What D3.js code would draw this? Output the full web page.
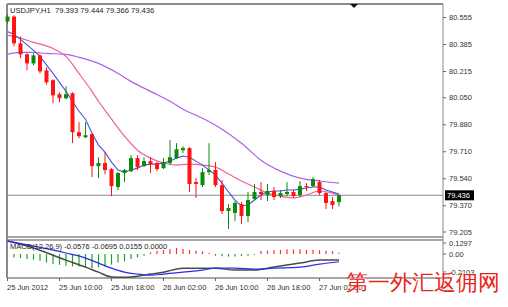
<!DOCTYPE html>
<html>
<head>
<meta charset="utf-8">
<script src="https://cdn.jsdelivr.net/npm/d3@7"></script>
<style>
  body { margin: 0; background: #fff; }
  svg { display: block; }
  text { font-family: "Liberation Sans", Arial, sans-serif; }
</style>
</head>
<body>
<div id="chart"></div>
<script>
// USDJPY H1 candles, 25 Jun 02:00 .. 27 Jun 05:00
const open  = [80.530,80.561,80.392,80.323,80.266,80.316,80.222,80.160,80.072,80.047,80.078,79.833,79.802,79.821,79.620,79.639,79.601,79.488,79.576,79.588,79.670,79.620,79.651,79.639,79.607,79.639,79.670,79.720,79.733,79.519,79.500,79.582,79.595,79.500,79.337,79.325,79.381,79.306,79.413,79.457,79.438,79.463,79.431,79.444,79.457,79.438,79.494,79.494,79.519,79.450,79.400,79.393];
const high  = [80.574,80.568,80.436,80.330,80.330,80.323,80.241,80.166,80.084,80.122,80.084,79.896,79.896,79.827,79.676,79.708,79.607,79.582,79.601,79.689,79.689,79.676,79.676,79.645,79.670,79.783,79.764,79.745,79.739,79.544,79.607,79.764,79.645,79.532,79.381,79.400,79.394,79.457,79.507,79.519,79.507,79.488,79.469,79.519,79.469,79.526,79.513,79.551,79.532,79.457,79.425,79.444];
const low   = [80.517,80.373,80.298,80.222,80.254,80.203,80.134,80.015,80.021,80.040,79.764,79.795,79.795,79.551,79.544,79.570,79.431,79.469,79.519,79.582,79.595,79.613,79.576,79.588,79.601,79.626,79.664,79.701,79.457,79.419,79.488,79.563,79.488,79.318,79.224,79.275,79.256,79.268,79.406,79.406,79.400,79.406,79.419,79.431,79.419,79.425,79.463,79.488,79.438,79.350,79.350,79.366];
const close = [80.561,80.392,80.323,80.266,80.316,80.216,80.147,80.065,80.047,80.072,79.833,79.808,79.814,79.620,79.639,79.595,79.494,79.576,79.595,79.670,79.613,79.651,79.632,79.601,79.645,79.676,79.726,79.733,79.507,79.507,79.582,79.595,79.500,79.337,79.356,79.388,79.306,79.406,79.457,79.444,79.463,79.425,79.450,79.457,79.431,79.494,79.488,79.538,79.450,79.388,79.375,79.436];

// moving averages: [bar index, price]
const maFast = [[0,80.467],[1,80.448],[2,80.417],[4,80.348],[5,80.310],[7,80.203],[9,80.090],[11,79.965],[12,79.915],[13,79.827],[14,79.752],[15,79.708],[16,79.645],[17,79.595],[18,79.582],[19,79.595],[20,79.607],[21,79.626],[22,79.632],[23,79.632],[24,79.639],[25,79.651],[26,79.670],[27,79.683],[28,79.676],[29,79.651],[30,79.626],[31,79.595],[32,79.563],[33,79.513],[34,79.457],[35,79.406],[36,79.369],[37,79.375],[38,79.406],[39,79.438],[40,79.457],[41,79.463],[42,79.463],[43,79.469],[44,79.469],[45,79.475],[46,79.482],[47,79.488],[48,79.488],[49,79.469],[50,79.457],[51,79.444]];
const maMid  = [[0,80.442],[1,80.436],[4,80.398],[7,80.360],[9,80.310],[11,80.203],[13,80.090],[14,80.028],[15,79.971],[16,79.915],[18,79.808],[20,79.720],[22,79.670],[24,79.639],[26,79.626],[28,79.632],[30,79.626],[32,79.613],[34,79.570],[36,79.526],[38,79.488],[40,79.450],[42,79.431],[44,79.419],[46,79.438],[48,79.463],[50,79.450],[51,79.438]];
const maSlow = [[0,80.323],[2,80.335],[4,80.335],[6,80.329],[9,80.323],[11,80.304],[14,80.266],[17,80.203],[19,80.153],[22,80.090],[25,80.028],[27,79.978],[30,79.921],[33,79.852],[36,79.764],[39,79.657],[42,79.588],[45,79.544],[48,79.526],[51,79.513]];

// MACD panel
const macdHist = [0,-0.039,-0.047,-0.059,-0.067,-0.078,-0.098,-0.118,-0.125,-0.137,-0.145,-0.145,-0.157,-0.165,-0.157,-0.145,-0.125,-0.098,-0.086,-0.059,-0.039,-0.02,0.02,0.039,0.047,0.059,0.071,0.059,0.047,0.039,0.031,0.012,-0.02,-0.027,-0.03,-0.03,-0.025,-0.02,-0.01,0.035,0.04,0.045,0.05,0.055,0.055,0.055,0.05,0.05,0.045,0.04,0.035,0.0155];
const macdMain   = [[0,0.153],[4,0.071],[9,-0.071],[12,-0.153],[14,-0.212],[16,-0.268],[18,-0.271],[20,-0.259],[22,-0.235],[24,-0.212],[27,-0.165],[30,-0.165],[32,-0.165],[35,-0.188],[38,-0.188],[41,-0.153],[45,-0.106],[48,-0.071],[51,-0.07]];
const macdSignal = [[0,0.153],[4,0.094],[9,0.012],[12,-0.047],[14,-0.106],[16,-0.165],[18,-0.212],[20,-0.235],[22,-0.247],[24,-0.235],[27,-0.212],[30,-0.188],[32,-0.165],[35,-0.165],[38,-0.176],[41,-0.165],[45,-0.153],[48,-0.118],[51,-0.09]];

const priceTicks = [80.555,80.385,80.215,80.050,79.880,79.710,79.540,79.370,79.205];
const macdTicks = [0.1297, 0, -0.2103];
const macdTickLabels = ["0.1297","0.00","-0.2103"];
const timeIdx = [0,8,16,24,32,40,48];
const timeLabels = ["25 Jun 2012","25 Jun 10:00","25 Jun 18:00","26 Jun 02:00","26 Jun 10:00","26 Jun 18:00","27 Jun 02:00"];
const lastPrice = 79.436;

const width = 508, height = 307;
const padL = 7, padR = 443, padT = 4, mainBottom = 237, macdTop = 240, macdBottom = 278;

const svg = d3.select("#chart").append("svg")
  .attr("width", width).attr("height", height);
svg.append("rect").attr("width", width).attr("height", height).attr("fill", "#fff");

const x = d3.scaleLinear().domain([0, 51]).range([7.5, 339]);
const y = d3.scaleLinear().domain([79.205, 80.555]).range([232, 17.5]);
const ym = d3.scaleLinear().domain([-0.2103, 0.1297]).range([272, 243]);

const GREEN = "#0b8a0b", RED = "#ff1414";

// frame
const frame = svg.append("g").attr("fill", "none").attr("stroke", "#8a8a8a");
frame.append("line").attr("x1", padL).attr("x2", padR).attr("y1", padT).attr("y2", padT).attr("stroke-width", 2);
frame.append("line").attr("x1", padL).attr("x2", padL).attr("y1", padT).attr("y2", macdBottom).attr("stroke-width", 2);
frame.append("line").attr("x1", padR).attr("x2", padR).attr("y1", padT).attr("y2", macdBottom + 2);
frame.append("line").attr("x1", padL).attr("x2", padR).attr("y1", mainBottom).attr("y2", mainBottom).attr("stroke-width", 1.5);
frame.append("line").attr("x1", padL).attr("x2", padR).attr("y1", macdTop).attr("y2", macdTop).attr("stroke-width", 1.5);
frame.append("line").attr("x1", padL).attr("x2", padR).attr("y1", macdBottom).attr("y2", macdBottom).attr("stroke-width", 1.5);

// chart shift marker
svg.append("path").attr("d", "M350,4L358,4L354,8Z").attr("fill", "#111");

// current price line
svg.append("line").attr("x1", padL).attr("x2", padR)
  .attr("y1", y(lastPrice)).attr("y2", y(lastPrice))
  .attr("stroke", "#8c8c8c").attr("stroke-width", 1);

// moving averages
const line = d3.line().x(d => x(d[0])).y(d => y(d[1]));
const smooth = d3.line().curve(d3.curveMonotoneX).x(d => x(d[0])).y(d => y(d[1]));
svg.append("path").attr("d", smooth(maSlow)).attr("fill", "none").attr("stroke", "#b25ee8").attr("stroke-width", 1.2);
svg.append("path").attr("d", smooth(maMid)).attr("fill", "none").attr("stroke", "#f0609a").attr("stroke-width", 1.2);
svg.append("path").attr("d", line(maFast)).attr("fill", "none").attr("stroke", "#4a52e0").attr("stroke-width", 1.1);

// candles
const idx = d3.range(open.length);
const candles = svg.append("g").selectAll("g").data(idx).join("g");
candles.append("line")
  .attr("x1", i => x(i)).attr("x2", i => x(i))
  .attr("y1", i => y(high[i])).attr("y2", i => y(low[i]))
  .attr("stroke", i => close[i] >= open[i] ? GREEN : RED).attr("stroke-width", 1);
candles.append("rect")
  .attr("x", i => x(i) - 2).attr("width", 4)
  .attr("y", i => y(Math.max(open[i], close[i])))
  .attr("height", i => Math.max(1.2, Math.abs(y(open[i]) - y(close[i]))))
  .attr("fill", i => close[i] >= open[i] ? GREEN : RED);

// right price axis
const pa = svg.append("g");
pa.selectAll("line").data(priceTicks).join("line")
  .attr("x1", padR).attr("x2", padR + 3).attr("y1", d => y(d)).attr("y2", d => y(d))
  .attr("stroke", "#666");
pa.selectAll("text").data(priceTicks).join("text")
  .attr("x", 449).attr("y", d => y(d)).attr("dy", "0.35em")
  .attr("font-size", 7.5).attr("fill", "#333")
  .text(d => d.toFixed(3));
svg.append("rect").attr("x", 445).attr("y", y(lastPrice) - 5).attr("width", 29).attr("height", 10).attr("fill", "#000");
svg.append("text").attr("x", 447).attr("y", y(lastPrice)).attr("dy", "0.35em")
  .attr("font-size", 7.5).attr("fill", "#fff").text(lastPrice.toFixed(3));

// title
svg.append("text").attr("x", 10).attr("y", 13).attr("font-size", 7.6).attr("fill", "#222")
  .attr("xml:space", "preserve").style("white-space", "pre")
  .text("USDJPY,H1  " + [open[51], high[51], low[51], close[51]].map(v => v.toFixed(3)).join(" "));

// MACD histogram
svg.append("g").selectAll("line").data(idx).join("line")
  .attr("x1", i => x(i)).attr("x2", i => x(i))
  .attr("y1", ym(0)).attr("y2", i => ym(macdHist[i]))
  .attr("stroke", i => macdHist[i] >= 0 ? "#ff3030" : "#22a022").attr("stroke-width", 1.2);

const mline = d3.line().curve(d3.curveMonotoneX).x(d => x(d[0])).y(d => ym(d[1]));
svg.append("path").attr("d", mline(macdMain)).attr("fill", "none").attr("stroke", "#4a4a4a").attr("stroke-width", 1.5);
svg.append("path").attr("d", mline(macdSignal)).attr("fill", "none").attr("stroke", "#2b2bf0").attr("stroke-width", 1.2);

svg.append("text").attr("x", 10).attr("y", 246).attr("dy", "0.35em").attr("font-size", 7.5).attr("fill", "#222")
  .text("MACD(12,26,9) -0.0576 -0.0695 0.0155 0.0000");

const ma = svg.append("g");
ma.selectAll("line").data(macdTicks).join("line")
  .attr("x1", padR).attr("x2", padR + 3).attr("y1", d => ym(d)).attr("y2", d => ym(d))
  .attr("stroke", "#666");
ma.selectAll("text").data(macdTicks).join("text")
  .attr("x", 449).attr("y", d => ym(d)).attr("dy", "0.35em")
  .attr("font-size", 7.5).attr("fill", "#333")
  .text((d, i) => macdTickLabels[i]);

// time axis
const ta = svg.append("g");
ta.selectAll("line").data(timeIdx).join("line")
  .attr("x1", i => x(i)).attr("x2", i => x(i)).attr("y1", macdBottom).attr("y2", macdBottom + 3)
  .attr("stroke", "#666");
ta.selectAll("text").data(timeIdx).join("text")
  .attr("x", i => x(i) - 0.5).attr("y", 287).attr("dy", "0.35em")
  .attr("font-size", 7.5).attr("fill", "#333")
  .text((d, i) => timeLabels[i]);

// watermark
svg.append("text").attr("x", 346).attr("y", 290)
  .attr("font-family", "'Noto Sans CJK SC', sans-serif").attr("font-size", 22)
  .attr("fill", "#ea2418").attr("stroke", "#fff").attr("stroke-width", 0.5).attr("paint-order", "stroke")
  .text("第一外汇返佣网");
</script>
</body>
</html>
